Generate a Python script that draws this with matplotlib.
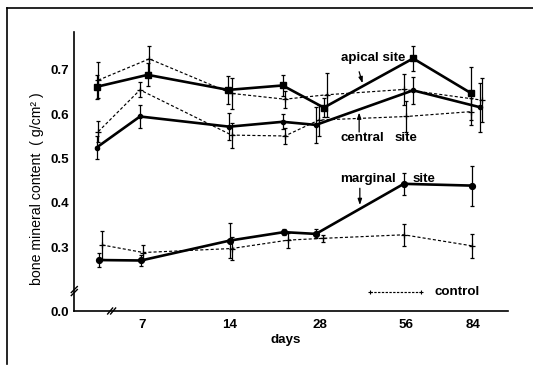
import matplotlib
matplotlib.use('Agg')
import matplotlib.pyplot as plt
from matplotlib.lines import Line2D

plt.rcParams['font.family'] = ['Liberation Sans', 'DejaVu Sans']

# ---- data -------------------------------------------------------------
# x values are positions along the (non-linear) day axis: 7 d -> 1, 14 d -> 2, ...
tick_pos = [1.0, 1.995, 3.016, 4.0, 4.76]
tick_labels = ['7', '14', '28', '56', '84']
ytick_vals = [0.156, 0.3, 0.4, 0.5, 0.6, 0.7]
ytick_labels = ['0.0', '0.3', '0.4', '0.5', '0.6', '0.7']

apical_x = [0.482, 1.061, 1.976, 2.594, 3.062, 4.076, 4.739]
apical_y = [0.662, 0.689, 0.655, 0.665, 0.615, 0.726, 0.647]
apical_err = [0.027, 0.026, 0.032, 0.024, 0.021, 0.029, 0.060]

ctrl_apical_x = [0.501, 1.079, 2.015, 2.620, 3.093, 3.970, 4.853]
ctrl_apical_y = [0.677, 0.725, 0.647, 0.634, 0.644, 0.656, 0.632]
ctrl_apical_err = [0.040, 0.030, 0.035, 0.019, 0.050, 0.035, 0.049]

central_x = [0.482, 0.974, 1.988, 2.594, 2.972, 4.076, 4.833]
central_y = [0.525, 0.595, 0.572, 0.583, 0.576, 0.654, 0.616]
central_err = [0.026, 0.026, 0.030, 0.017, 0.040, 0.031, 0.055]

ctrl_central_x = [0.501, 0.974, 2.015, 2.620, 3.006, 4.000, 4.739]
ctrl_central_y = [0.561, 0.655, 0.553, 0.551, 0.587, 0.595, 0.606]
ctrl_central_err = [0.023, 0.017, 0.028, 0.019, 0.035, 0.034, 0.030]

marginal_x = [0.509, 0.985, 1.995, 2.608, 2.972, 3.970, 4.746]
marginal_y = [0.271, 0.270, 0.315, 0.334, 0.330, 0.443, 0.439]
marginal_err = [0.015, 0.013, 0.040, 0.006, 0.010, 0.025, 0.045]

ctrl_marginal_x = [0.546, 1.011, 2.015, 2.657, 3.054, 3.970, 4.746]
ctrl_marginal_y = [0.305, 0.288, 0.297, 0.316, 0.320, 0.328, 0.303]
ctrl_marginal_err = [0.032, 0.017, 0.026, 0.017, 0.008, 0.025, 0.027]

# ---- figure -----------------------------------------------------------
W, H = 533, 366
fig = plt.figure(figsize=(W / 100, H / 100), dpi=100)
ax_l, ax_r, ax_b, ax_t = 74.3, 508.3, 311.0, 32.3
ax = fig.add_axes([ax_l / W, 1 - ax_b / H, (ax_r - ax_l) / W, (ax_b - ax_t) / H])
ax.set_xlim(0.228, 5.157)
ax.set_ylim(0.156, 0.785)

K = 'black'
solid = dict(color=K, lw=1.9, elinewidth=0.9, capsize=1.5, capthick=0.9)
dash = dict(color=K, lw=0.85, elinewidth=0.9, capsize=1.5, capthick=0.9)

def dashed(x, y, e):
    c = ax.errorbar(x, y, yerr=e, fmt='-', marker='+', ms=4, mew=0.9, **dash)
    c.lines[0].set_dashes((2.6, 1.8))

dashed(ctrl_apical_x, ctrl_apical_y, ctrl_apical_err)
dashed(ctrl_central_x, ctrl_central_y, ctrl_central_err)
dashed(ctrl_marginal_x, ctrl_marginal_y, ctrl_marginal_err)

ax.errorbar(apical_x, apical_y, yerr=apical_err, fmt='-', marker='s', ms=4.2, **solid)
ax.errorbar(central_x, central_y, yerr=central_err, fmt='-', marker='o', ms=3.0, **solid)
ax.errorbar(marginal_x, marginal_y, yerr=marginal_err, fmt='-', marker='o', ms=4.2, **solid)

for s in ['top', 'right']:
    ax.spines[s].set_visible(False)
for s in ['left', 'bottom']:
    ax.spines[s].set_linewidth(1.2)

FS = 9.6
ax.set_xticks(tick_pos)
ax.set_xticklabels(tick_labels, fontsize=FS, fontweight='bold')
ax.set_yticks(ytick_vals)
ax.set_yticklabels(ytick_labels, fontsize=FS, fontweight='bold')
ax.tick_params(axis='both', length=0)
ax.tick_params(axis='x', pad=6)
ax.tick_params(axis='y', pad=4)

ax.text((285.5 - ax_l) / (ax_r - ax_l), (ax_b - 340) / (ax_b - ax_t), 'days',
        transform=ax.transAxes, ha='center', va='center', fontsize=FS, fontweight='bold')
ax.text((36.7 - ax_l) / (ax_r - ax_l), (ax_b - 188.5) / (ax_b - ax_t),
        'bone mineral content  ( g/cm\u00b2 )', transform=ax.transAxes,
        rotation=90, ha='center', va='center', fontsize=10.2)

# annotations
tk = dict(fontsize=FS, fontweight='bold', ha='left', va='center')
ax.text(3.252, 0.726, 'apical site', **tk)
ax.text(3.252, 0.546, 'central', **tk)
ax.text(3.861, 0.546, 'site', **tk)
ax.text(3.252, 0.454, 'marginal', **tk)
ax.text(4.073, 0.454, 'site', **tk)
ax.text(4.322, 0.200, 'control', **tk)
ap = dict(arrowstyle='-|>,head_length=0.35,head_width=0.12', color=K, lw=0.9, shrinkA=0, shrinkB=0)
ax.annotate('', xy=(3.502, 0.670), xytext=(3.463, 0.696), arrowprops=ap)
ax.annotate('', xy=(3.463, 0.604), xytext=(3.463, 0.560), arrowprops=ap)
ax.annotate('', xy=(3.471, 0.395), xytext=(3.471, 0.433), arrowprops=ap)
leg = Line2D([3.585, 4.171], [0.200, 0.200], color=K, lw=0.85, dashes=(2.0, 1.2),
             marker='+', ms=3, mew=0.8)
ax.add_line(leg)

# axis break marks
pu, pv = 1 / 88.1, 1 / 443.0
for d in (-1.5, 1.5):
    ax.add_line(Line2D([0.228 - 3 * pu, 0.228 + 3 * pu], [0.201 + d * pv - 3 * pv, 0.201 + d * pv + 3 * pv],
                       color=K, lw=1.0, clip_on=False))
    ax.add_line(Line2D([0.652 + d * pu - 2.5 * pu, 0.652 + d * pu + 2.5 * pu], [0.156 - 3 * pv, 0.156 + 3 * pv],
                       color=K, lw=1.0, clip_on=False))

# scanned page frame
fig.add_artist(Line2D([7 / W, 1.0], [1 - 8 / H, 1 - 8 / H], color=K, lw=1.2))
fig.add_artist(Line2D([7 / W, 7 / W], [1 - 8 / H, 1 - 364 / H], color=K, lw=1.2))

fig.savefig('out.png', dpi=100)
